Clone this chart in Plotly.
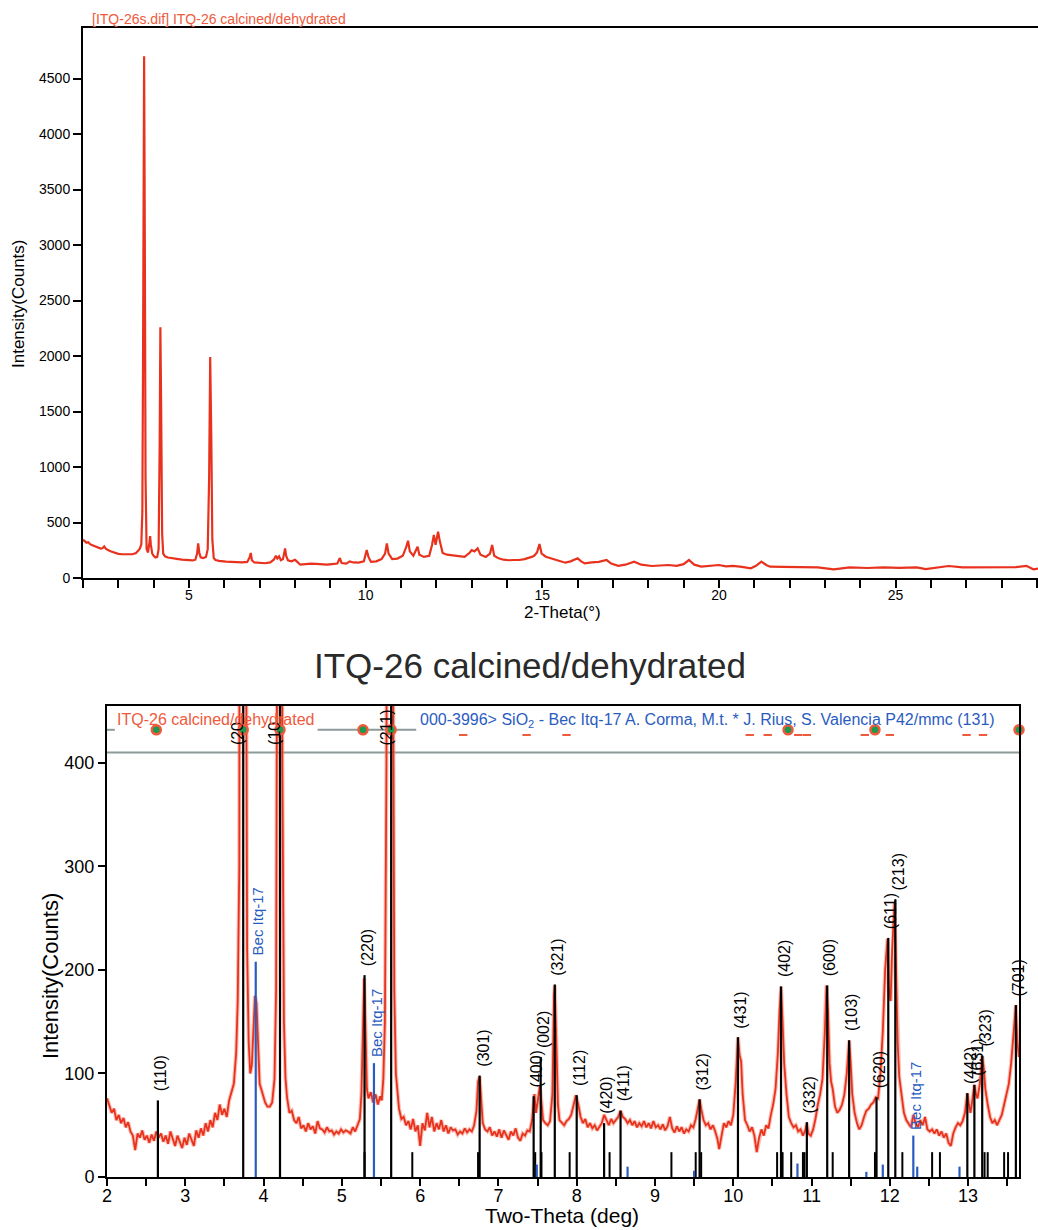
import plotly.graph_objects as go

W, H = 1038, 1230
FONT = "Liberation Sans, Arial, sans-serif"
RED = "#e8321e"
SALMON = "#f05a3c"
BLUE = "#2a5cc0"

# ---------------- top panel: full pattern (2-Theta vs counts) ----------------
top_tt = [2.00, 2.05, 2.10, 2.15, 2.20, 2.25, 2.30, 2.35, 2.40, 2.45, 2.50, 2.55, 2.60, 2.65, 2.70,
          2.75, 2.80, 2.85, 2.90, 2.95, 3.00, 3.10, 3.20, 3.30, 3.40, 3.50, 3.55, 3.60, 3.65, 3.68,
          3.70, 3.73, 3.75, 3.77, 3.80, 3.84, 3.88, 3.90, 3.92, 3.96, 4.00, 4.05, 4.10, 4.14, 4.17,
          4.19, 4.21, 4.24, 4.27, 4.32, 4.40, 4.50, 4.60, 4.70, 4.80, 4.90, 5.00, 5.10, 5.18, 5.23,
          5.26, 5.29, 5.33, 5.40, 5.48, 5.53, 5.57, 5.60, 5.63, 5.66, 5.70, 5.75, 5.85, 5.95, 6.05,
          6.20, 6.35, 6.50, 6.65, 6.72, 6.75, 6.78, 6.85, 7.00, 7.15, 7.30, 7.40, 7.46, 7.50, 7.55,
          7.60, 7.66, 7.70, 7.72, 7.75, 7.80, 7.90, 8.00, 8.05, 8.15, 8.30, 8.45, 8.60, 8.75, 8.90,
          9.05, 9.20, 9.27, 9.32, 9.45, 9.55, 9.65, 9.80, 9.95, 10.03, 10.08, 10.15, 10.30, 10.45, 10.55,
          10.60, 10.65, 10.75, 10.90, 11.05, 11.15, 11.20, 11.25, 11.35, 11.47, 11.52, 11.65, 11.80, 11.88, 11.93,
          11.98, 12.05, 12.10, 12.18, 12.30, 12.50, 12.65, 12.80, 12.95, 13.00, 13.08, 13.17, 13.25, 13.40, 13.52,
          13.58, 13.64, 13.76, 13.90, 14.05, 14.20, 14.35, 14.50, 14.60, 14.70, 14.77, 14.85, 14.92, 14.98, 15.10,
          15.28, 15.45, 15.65, 15.80, 15.95, 16.00, 16.10, 16.20, 16.40, 16.60, 16.82, 16.95, 17.15, 17.35, 17.60,
          17.80, 18.10, 18.35, 18.57, 18.80, 19.00, 19.15, 19.30, 19.50, 19.75, 20.00, 20.20, 20.40, 20.65, 20.90,
          21.05, 21.20, 21.35, 21.45, 21.80, 22.20, 22.50, 22.80, 23.25, 23.70, 24.20, 24.65, 25.10, 25.60, 25.85,
          26.20, 26.50, 26.90, 27.45, 27.90, 28.40, 28.70, 28.90, 29.03]
top_counts = [345, 330, 318, 322, 305, 298, 290, 282, 276, 270, 265, 268, 285, 262, 250,
              245, 238, 232, 228, 224, 218, 214, 212, 210, 214, 225, 240, 260, 300, 600,
              2000, 4700, 3000, 900, 260, 230, 320, 378, 300, 220, 200, 185, 190, 260, 1200,
              2260, 1600, 400, 220, 195, 185, 178, 172, 170, 165, 162, 160, 158, 165, 220,
              312, 230, 186, 180, 190, 260, 900, 1990, 1300, 350, 180, 162, 155, 150, 148,
              145, 142, 140, 145, 190, 225, 160, 140, 135, 133, 140, 165, 200, 175, 195,
              160, 170, 240, 267, 200, 160, 150, 165, 150, 120, 125, 130, 128, 125, 120,
              125, 130, 180, 135, 130, 150, 140, 138, 150, 252, 190, 145, 150, 170, 220,
              312, 220, 170, 175, 200, 280, 336, 240, 200, 282, 210, 190, 200, 300, 387,
              300, 417, 330, 225, 210, 200, 195, 190, 230, 252, 240, 267, 210, 190, 220,
              297, 200, 177, 165, 160, 162, 162, 170, 177, 190, 200, 230, 306, 220, 192,
              175, 160, 138, 150, 165, 177, 150, 132, 140, 145, 162, 130, 110, 120, 147,
              120, 108, 115, 117, 110, 125, 162, 120, 102, 110, 117, 105, 110, 100, 87,
              110, 147, 115, 102, 100, 98, 95, 96, 78, 95, 90, 95, 92, 96, 80,
              95, 108, 95, 94, 96, 98, 110, 78, 85]

# ---------------- bottom panel: zoomed, background-subtracted pattern ----------------
bot_tt = [2.00, 2.03, 2.06, 2.09, 2.12, 2.15, 2.18, 2.21, 2.24, 2.27, 2.30, 2.33, 2.36, 2.39, 2.42,
          2.45, 2.48, 2.51, 2.54, 2.57, 2.60, 2.63, 2.66, 2.69, 2.72, 2.75, 2.78, 2.81, 2.84, 2.87,
          2.90, 2.93, 2.96, 2.99, 3.02, 3.05, 3.08, 3.11, 3.14, 3.17, 3.20, 3.23, 3.26, 3.29, 3.32,
          3.35, 3.38, 3.41, 3.44, 3.47, 3.50, 3.53, 3.56, 3.59, 3.62, 3.65, 3.67, 3.69, 3.71, 3.73,
          3.75, 3.77, 3.79, 3.81, 3.83, 3.85, 3.87, 3.89, 3.91, 3.93, 3.95, 3.97, 3.99, 4.02, 4.05,
          4.08, 4.11, 4.14, 4.16, 4.18, 4.20, 4.22, 4.24, 4.26, 4.28, 4.30, 4.33, 4.36, 4.39, 4.42,
          4.45, 4.48, 4.51, 4.54, 4.57, 4.60, 4.63, 4.66, 4.69, 4.72, 4.75, 4.78, 4.81, 4.84, 4.87,
          4.90, 4.93, 4.96, 4.99, 5.02, 5.05, 5.08, 5.11, 5.14, 5.17, 5.20, 5.23, 5.25, 5.27, 5.285,
          5.30, 5.32, 5.34, 5.37, 5.40, 5.43, 5.46, 5.49, 5.51, 5.53, 5.55, 5.57, 5.59, 5.61, 5.63,
          5.65, 5.67, 5.69, 5.71, 5.73, 5.76, 5.79, 5.82, 5.85, 5.88, 5.91, 5.94, 5.97, 6.00, 6.03,
          6.06, 6.09, 6.12, 6.15, 6.18, 6.21, 6.24, 6.27, 6.30, 6.33, 6.36, 6.39, 6.42, 6.45, 6.48,
          6.51, 6.54, 6.57, 6.60, 6.63, 6.66, 6.69, 6.72, 6.74, 6.76, 6.78, 6.80, 6.83, 6.86, 6.89,
          6.92, 6.95, 6.98, 7.01, 7.04, 7.07, 7.10, 7.13, 7.16, 7.19, 7.22, 7.25, 7.28, 7.31, 7.34,
          7.37, 7.40, 7.43, 7.46, 7.48, 7.50, 7.53, 7.55, 7.57, 7.60, 7.63, 7.66, 7.69, 7.71, 7.72,
          7.74, 7.76, 7.78, 7.81, 7.84, 7.87, 7.90, 7.93, 7.96, 7.99, 8.02, 8.05, 8.08, 8.11, 8.14,
          8.17, 8.20, 8.23, 8.26, 8.29, 8.32, 8.35, 8.38, 8.41, 8.44, 8.47, 8.50, 8.53, 8.56, 8.59,
          8.62, 8.65, 8.68, 8.71, 8.74, 8.77, 8.80, 8.83, 8.86, 8.89, 8.92, 8.95, 8.98, 9.01, 9.04,
          9.07, 9.10, 9.13, 9.16, 9.19, 9.22, 9.25, 9.28, 9.31, 9.34, 9.37, 9.40, 9.43, 9.46, 9.49,
          9.52, 9.55, 9.57, 9.59, 9.62, 9.65, 9.68, 9.71, 9.74, 9.77, 9.80, 9.82, 9.85, 9.88, 9.91,
          9.94, 9.97, 10.00, 10.03, 10.06, 10.08, 10.10, 10.12, 10.15, 10.18, 10.21, 10.24, 10.27, 10.30, 10.33,
          10.36, 10.39, 10.42, 10.45, 10.48, 10.51, 10.54, 10.57, 10.59, 10.61, 10.63, 10.65, 10.68, 10.71, 10.74,
          10.77, 10.80, 10.83, 10.86, 10.89, 10.92, 10.94, 10.96, 10.99, 11.02, 11.05, 11.08, 11.11, 11.14, 11.17,
          11.19, 11.21, 11.23, 11.25, 11.27, 11.30, 11.33, 11.36, 11.39, 11.42, 11.45, 11.48, 11.50, 11.52, 11.55,
          11.58, 11.61, 11.64, 11.67, 11.70, 11.73, 11.76, 11.79, 11.82, 11.85, 11.88, 11.91, 11.94, 11.97, 11.99,
          12.01, 12.03, 12.06, 12.08, 12.10, 12.12, 12.15, 12.18, 12.21, 12.24, 12.27, 12.30, 12.33, 12.36, 12.39,
          12.42, 12.45, 12.48, 12.51, 12.54, 12.57, 12.60, 12.63, 12.66, 12.69, 12.72, 12.75, 12.78, 12.81, 12.84,
          12.87, 12.90, 12.93, 12.96, 12.99, 13.01, 13.03, 13.05, 13.08, 13.10, 13.12, 13.15, 13.18, 13.20, 13.22,
          13.25, 13.28, 13.31, 13.34, 13.37, 13.40, 13.43, 13.46, 13.49, 13.52, 13.55, 13.58, 13.61, 13.63, 13.65]
bot_int = [76, 70, 62, 66, 55, 60, 52, 57, 48, 53, 44, 40, 26, 42, 38,
           45, 36, 40, 33, 41, 35, 44, 38, 42, 34, 40, 32, 44, 36, 30,
           40, 33, 28, 38, 31, 42, 35, 30, 45, 38, 47, 40, 52, 44, 55,
           48, 62, 55, 70, 60, 66, 58, 74, 82, 90, 120, 170, 300, 1200, 4500,
           3000, 700, 220, 130, 100, 108, 140, 175, 168, 120, 90, 85, 80, 72, 68,
           68, 72, 95, 180, 700, 2100, 1800, 400, 150, 95, 77, 62, 64, 55, 52,
           58, 47, 50, 44, 52, 46, 49, 42, 54, 47, 46, 43, 48, 44, 45,
           41, 44, 42, 46, 43, 45, 44, 42, 48, 44, 50, 56, 80, 160, 192,
           150, 85, 76, 82, 72, 80, 70, 78, 74, 95, 150, 400, 1400, 1900, 1800,
           600, 180, 100, 84, 66, 56, 58, 50, 54, 46, 56, 44, 50, 30, 52,
           45, 62, 48, 58, 44, 52, 46, 55, 44, 50, 42, 48, 45, 46, 41,
           44, 42, 47, 43, 46, 44, 50, 64, 92, 97, 68, 52, 46, 44, 48,
           40, 44, 39, 46, 38, 45, 41, 36, 44, 40, 47, 38, 35, 42, 40,
           45, 44, 55, 80, 62, 72, 88, 72, 55, 52, 50, 54, 80, 175, 185,
           130, 70, 55, 52, 50, 54, 56, 60, 70, 79, 70, 58, 52, 56, 48,
           52, 47, 50, 45, 48, 52, 60, 54, 50, 56, 52, 55, 58, 64, 58,
           56, 52, 55, 50, 54, 48, 52, 49, 54, 48, 52, 47, 54, 48, 50,
           46, 51, 45, 49, 58, 47, 43, 49, 44, 48, 42, 46, 44, 50, 48,
           56, 68, 75, 66, 55, 50, 52, 46, 50, 44, 36, 27, 40, 52, 48,
           54, 50, 60, 90, 135, 118, 112, 80, 55, 50, 44, 48, 40, 24, 38,
           46, 40, 50, 47, 60, 70, 85, 120, 160, 184, 150, 110, 80, 58, 52,
           48, 50, 44, 46, 40, 45, 52, 42, 40, 46, 56, 70, 80, 95, 140,
           185, 160, 110, 92, 85, 68, 62, 65, 70, 80, 100, 132, 110, 80, 62,
           52, 46, 50, 58, 64, 66, 70, 72, 77, 76, 100, 140, 200, 230, 180,
           170, 220, 265, 200, 130, 97, 78, 62, 55, 52, 48, 60, 52, 48, 55,
           50, 58, 46, 44, 46, 42, 46, 40, 44, 38, 42, 33, 30, 42, 48,
           52, 50, 54, 62, 81, 70, 62, 72, 89, 80, 76, 90, 117, 105, 85,
           70, 58, 52, 55, 50, 56, 60, 70, 80, 90, 110, 140, 166, 130, 116]

# reference pattern sticks (ITQ-26, indexed)
hkl_pos = [2.65, 3.74, 4.21, 5.29, 5.63, 6.76, 7.45, 7.54, 7.72, 8.00, 8.35, 8.56, 9.57,
           10.06, 10.61, 10.94, 11.20, 11.48, 11.83, 11.98, 12.07, 12.99, 13.08, 13.18, 13.61]
hkl_int = [74, 4700, 2260, 195, 1990, 98, 78, 116, 186, 79, 52, 64, 75,
           135, 184, 53, 185, 132, 77, 231, 268, 81, 89, 117, 166]
hkl_lab = ["(110)", "(200)", "(101)", "(220)", "(211)", "(301)", "(400)", "(002)", "(321)", "(112)",
           "(420)", "(411)", "(312)", "(431)", "(402)", "(332)", "(600)", "(103)", "(620)", "(611)",
           "(213)", "(442)", "(631)", "(323)", "(701)"]
# part of the label left visible when the stick runs off the top
clipped_lab = {"(200)": "(20", "(101)": "(10"}

minor_pos = [5.29, 5.90, 6.74, 7.47, 7.55, 7.91, 8.42, 9.21, 9.52, 9.59, 10.56, 10.63, 10.74,
             10.89, 10.91, 11.27, 11.81, 12.16, 12.54, 12.64, 13.21, 13.25, 13.46, 13.51]
minor_int = [24] * len(minor_pos)

# Bec Itq-17 reference sticks
bec_pos = [3.90, 5.41, 12.30]
bec_int = [208, 110, 40]
bec_lab = ["Bec Itq-17", "Bec Itq-17", "Bec Itq-17"]
bec_minor_pos = [7.49, 8.65, 9.50, 10.82, 11.70, 11.91, 12.35, 12.89]
bec_minor_int = [12, 10, 6, 13, 5, 12, 10, 10]

# peak-marker dots and dashes on the legend line
dot_pos = [2.63, 3.74, 4.21, 5.27, 5.63, 10.70, 11.81, 13.65]
dash_pos = [6.55, 7.36, 7.87, 10.21, 10.44, 10.83, 10.94, 11.68, 12.00, 12.98, 13.19]
legend_line_level = 432
frame_line_level = 410


def sticks(pos, h):
    xs, ys = [], []
    for p, v in zip(pos, h):
        xs += [p, p, None]
        ys += [0, v, None]
    return xs, ys


def px(x):
    return x / W


def py(y):
    return 1 - y / H


fig = go.Figure()

# top panel
fig.add_trace(go.Scatter(x=top_tt, y=top_counts, mode="lines", line=dict(color=RED, width=2.2),
                         xaxis="x", yaxis="y", showlegend=False, hoverinfo="skip"))

# bottom panel
fig.add_trace(go.Scatter(x=bot_tt, y=bot_int, mode="lines",
                         line=dict(color="rgba(245,140,120,0.55)", width=4),
                         xaxis="x2", yaxis="y2", showlegend=False, hoverinfo="skip"))
fig.add_trace(go.Scatter(x=bot_tt, y=bot_int, mode="lines", line=dict(color=RED, width=1.8),
                         xaxis="x2", yaxis="y2", showlegend=False, hoverinfo="skip"))
sx, sy = sticks(minor_pos, minor_int)
fig.add_trace(go.Scatter(x=sx, y=sy, mode="lines", line=dict(color="black", width=2),
                         xaxis="x2", yaxis="y2", showlegend=False, hoverinfo="skip"))
sx, sy = sticks(hkl_pos, hkl_int)
fig.add_trace(go.Scatter(x=sx, y=sy, mode="lines", line=dict(color="black", width=2.2),
                         xaxis="x2", yaxis="y2", showlegend=False, hoverinfo="skip"))
sx, sy = sticks(bec_minor_pos, bec_minor_int)
fig.add_trace(go.Scatter(x=sx, y=sy, mode="lines", line=dict(color=BLUE, width=2.2),
                         xaxis="x2", yaxis="y2", showlegend=False, hoverinfo="skip"))
sx, sy = sticks(bec_pos, bec_int)
fig.add_trace(go.Scatter(x=sx, y=sy, mode="lines", line=dict(color=BLUE, width=2.2),
                         xaxis="x2", yaxis="y2", showlegend=False, hoverinfo="skip"))
fig.add_trace(go.Scatter(x=dash_pos, y=[legend_line_level - 5] * len(dash_pos), mode="markers",
                         marker=dict(symbol="line-ew", size=6, line=dict(color=SALMON, width=2)),
                         xaxis="x2", yaxis="y2", showlegend=False, hoverinfo="skip", cliponaxis=False))
fig.add_trace(go.Scatter(x=dot_pos, y=[legend_line_level] * len(dot_pos), mode="markers",
                         marker=dict(size=9, color="#1a9a4e", line=dict(color=SALMON, width=2.5)),
                         xaxis="x2", yaxis="y2", showlegend=False, hoverinfo="skip", cliponaxis=False))

shapes = [
    dict(type="line", xref="x2", yref="y2", x0=2, x1=13.65, y0=frame_line_level, y1=frame_line_level,
         line=dict(color="#8c9a9a", width=2), layer="below"),
    dict(type="line", xref="x2", yref="y2", x0=2, x1=2.10, y0=legend_line_level, y1=legend_line_level,
         line=dict(color="#8c9a9a", width=2), layer="below"),
    dict(type="line", xref="x2", yref="y2", x0=4.69, x1=5.95, y0=legend_line_level, y1=legend_line_level,
         line=dict(color="#8c9a9a", width=2), layer="below"),
]

ann = []
TOPMAX = 455
for p, v, lab in zip(hkl_pos, hkl_int, hkl_lab):
    if v > TOPMAX:
        ann.append(dict(x=p, y=415, xref="x2", yref="y2", text=clipped_lab.get(lab, lab),
                        textangle=-90, showarrow=False, xanchor="center", yanchor="bottom",
                        xshift=-5, font=dict(family=FONT, size=16, color="black")))
    else:
        ann.append(dict(x=p, y=v, xref="x2", yref="y2", text=lab, textangle=-90, showarrow=False,
                        xanchor="center", yanchor="bottom", xshift=3, yshift=7,
                        font=dict(family=FONT, size=16, color="black")))
for p, v, lab in zip(bec_pos, bec_int, bec_lab):
    ann.append(dict(x=p, y=v, xref="x2", yref="y2", text=lab, textangle=-90, showarrow=False,
                    xanchor="center", yanchor="bottom", xshift=2, yshift=4,
                    font=dict(family=FONT, size=15, color=BLUE)))

ann += [
    dict(x=px(90), y=py(19), xref="paper", yref="paper", text="[ITQ-26s.dif] ITQ-26 calcined/dehydrated",
         showarrow=False, xanchor="left", yanchor="middle", font=dict(family=FONT, size=14, color=SALMON)),
    dict(x=px(18), y=py(304), xref="paper", yref="paper", text="Intensity(Counts)", textangle=-90,
         showarrow=False, xanchor="center", yanchor="middle", font=dict(family=FONT, size=17, color="black")),
    dict(x=px(562), y=py(613), xref="paper", yref="paper", text="2-Theta(°)",
         showarrow=False, xanchor="center", yanchor="middle", font=dict(family=FONT, size=17, color="black")),
    dict(x=px(530), y=py(665), xref="paper", yref="paper", text="ITQ-26 calcined/dehydrated",
         showarrow=False, xanchor="center", yanchor="middle", font=dict(family=FONT, size=35, color="#2a2a2a")),
    dict(x=px(50), y=py(976), xref="paper", yref="paper", text="Intensity(Counts)", textangle=-90,
         showarrow=False, xanchor="center", yanchor="middle", font=dict(family=FONT, size=22, color="black")),
    dict(x=px(562), y=py(1215), xref="paper", yref="paper", text="Two-Theta (deg)",
         showarrow=False, xanchor="center", yanchor="middle", font=dict(family=FONT, size=21, color="black")),
    dict(x=px(115), y=py(719), xref="paper", yref="paper", text="ITQ-26 calcined/dehydrated",
         showarrow=False, xanchor="left", yanchor="middle", font=dict(family=FONT, size=16, color=SALMON)),
    dict(x=px(418), y=py(720), xref="paper", yref="paper",
         text="000-3996> SiO<sub>2</sub> - Bec Itq-17 A. Corma, M.t. * J. Rius, S. Valencia P42/mmc (131)",
         showarrow=False, xanchor="left", yanchor="middle", font=dict(family=FONT, size=16, color=BLUE)),
]

axis_common = dict(showgrid=False, zeroline=False, showline=True, linecolor="black", linewidth=2,
                   ticks="outside", tickcolor="black", tickwidth=2, automargin=False)

fig.update_layout(
    width=W, height=H, margin=dict(l=0, r=0, t=0, b=0, pad=0, autoexpand=False),
    paper_bgcolor="white", plot_bgcolor="white", showlegend=False,
    font=dict(family=FONT, color="black"),
    xaxis=dict(domain=[px(83), 1.0], range=[2, 29.03], anchor="y", tick0=0, dtick=5, ticklen=8,
               mirror=True, tickfont=dict(size=14), ticklabelstandoff=-5,
               minor=dict(tick0=0, dtick=1, ticks="outside", ticklen=8, tickwidth=2, tickcolor="black"),
               **axis_common),
    yaxis=dict(domain=[py(578), py(28)], range=[0, 4955], anchor="x", tick0=0, dtick=500, ticklen=8,
               tickfont=dict(size=14), **axis_common),
    xaxis2=dict(domain=[px(107), px(1019)], range=[2, 13.65], anchor="y2", tick0=0, dtick=1, ticklen=7,
                mirror=True, tickfont=dict(size=18), ticklabelstandoff=-6,
                minor=dict(tick0=0, dtick=0.5, ticks="outside", ticklen=7, tickwidth=2, tickcolor="black"),
                **axis_common),
    yaxis2=dict(domain=[py(1177), py(706)], range=[0, 455], anchor="x2", tick0=0, dtick=100, ticklen=7,
                mirror=True, tickfont=dict(size=18), **axis_common),
    shapes=shapes,
    annotations=ann,
)

fig.write_html("out.html", config={"displayModeBar": False},
               post_script="document.body.style.margin='0px';")
